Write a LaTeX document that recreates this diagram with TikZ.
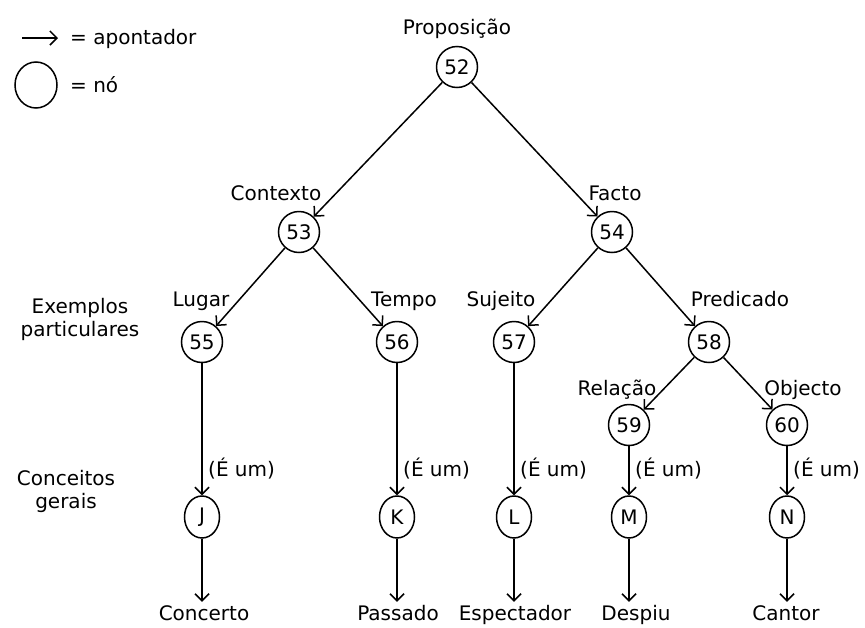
\documentclass[tikz,border=0pt]{standalone}
\usepackage{fontspec}
\setmainfont{DejaVu Sans}
\usetikzlibrary{arrows.meta,shapes.geometric}
\begin{document}
\begin{tikzpicture}[x=1pt,y=-1pt,
  every node/.style={font=\fontsize{20}{23}\selectfont},
  nd/.style={draw,circle,line width=1.5pt,minimum size=41pt,inner sep=0pt},
  cn/.style={draw,ellipse,line width=1.5pt,minimum width=35pt,minimum height=42pt,inner sep=0pt},
  lbl/.style={anchor=base,inner sep=0pt},
  bot/.style={anchor=base,inner sep=3pt,text height=15pt},
  isa/.style={anchor=base west,inner sep=0pt},
  ptr/.style={line width=1.5pt,-{Straight Barb[length=7pt,width=14pt,line width=1.5pt]}},
]
\useasboundingbox (0,0) rectangle (865,627);
% legend
\coordinate (la) at (22,38);
\coordinate (lb) at (58,38);
\draw[ptr] (la) -- (lb);
\node[anchor=base west,inner sep=0pt] (lt1) at (70,44) {= apontador};
\node[draw,ellipse,line width=1.5pt,minimum width=42pt,minimum height=46pt,inner sep=0pt] (lc) at (36,85) {};
\node[anchor=base west,inner sep=0pt] (lt2) at (70,92) {= nó};
% side labels
\node[align=center,inner sep=0pt,anchor=base] (ex) at (80,336) {Exemplos\\particulares};
\node[align=center,inner sep=0pt,anchor=base] (cg) at (66,508) {Conceitos\\gerais};
% nodes
\node[nd] (n52) at (457,67) {52};
\node[nd] (n53) at (299,232) {53};
\node[nd] (n54) at (612,232) {54};
\node[nd] (n55) at (202,342) {55};
\node[nd] (n56) at (397,342) {56};
\node[nd] (n57) at (514,342) {57};
\node[nd] (n58) at (709,342) {58};
\node[nd] (n59) at (629,425) {59};
\node[nd] (n60) at (787,425) {60};
\node[cn] (nJ) at (202,517) {J};
\node[cn] (nK) at (397,517) {K};
\node[cn] (nL) at (514,517) {L};
\node[cn] (nM) at (629,517) {M};
\node[cn] (nN) at (787,517) {N};
% node labels
\node[lbl] (tP) at (457,34) {Proposição};
\node[lbl] (tC) at (276,200) {Contexto};
\node[lbl] (tF) at (615,200) {Facto};
\node[lbl] (tLu) at (201,306) {Lugar};
\node[lbl] (tTe) at (404,306) {Tempo};
\node[lbl] (tSu) at (501,306) {Sujeito};
\node[lbl] (tPr) at (740,306) {Predicado};
\node[lbl] (tRe) at (617,395) {Relação};
\node[lbl] (tOb) at (803,395) {Objecto};
% bottom labels
\node[bot] (bJ) at (204,620) {Concerto};
\node[bot] (bK) at (398,620) {Passado};
\node[bot] (bL) at (515,620) {Espectador};
\node[bot] (bM) at (636,620) {Despiu};
\node[bot] (bN) at (786,620) {Cantor};
% edges
\draw[ptr] (n52) -- (n53);
\draw[ptr] (n52) -- (n54);
\draw[ptr] (n53) -- (n55);
\draw[ptr] (n53) -- (n56);
\draw[ptr] (n54) -- (n57);
\draw[ptr] (n54) -- (n58);
\draw[ptr] (n58) -- (n59);
\draw[ptr] (n58) -- (n60);
\draw[ptr] (n55) -- (nJ);
\draw[ptr] (n56) -- (nK);
\draw[ptr] (n57) -- (nL);
\draw[ptr] (n59) -- (nM);
\draw[ptr] (n60) -- (nN);
\draw[ptr] (nJ.south) -- (nJ.south |- bJ.north);
\draw[ptr] (nK.south) -- (nK.south |- bK.north);
\draw[ptr] (nL.south) -- (nL.south |- bL.north);
\draw[ptr] (nM.south) -- (nM.south |- bM.north);
\draw[ptr] (nN.south) -- (nN.south |- bN.north);
% (É um) labels
\node[isa] (eJ) at (208,476) {(É um)};
\node[isa] (eK) at (403,476) {(É um)};
\node[isa] (eL) at (520,476) {(É um)};
\node[isa] (eM) at (635,476) {(É um)};
\node[isa] (eN) at (793,476) {(É um)};
\end{tikzpicture}
\end{document}
